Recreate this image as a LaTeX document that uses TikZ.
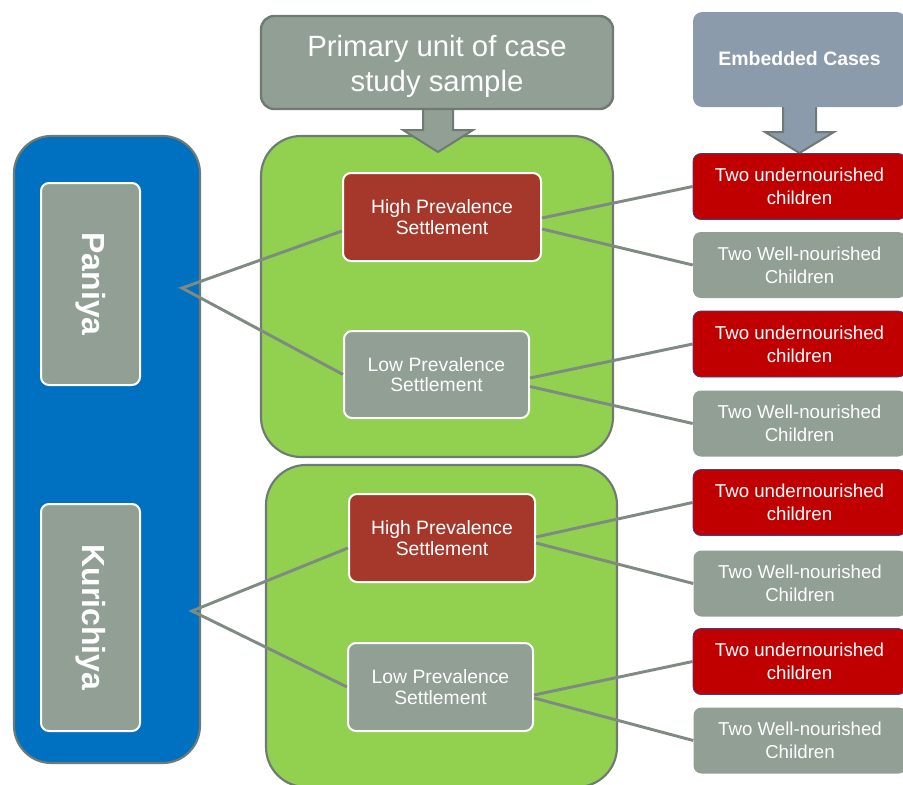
\documentclass[tikz,border=0pt]{standalone}
\usepackage{fontspec}
\setmainfont{Liberation Sans}
\usetikzlibrary{calc}

\definecolor{boxgray}{HTML}{919F94}
\definecolor{edgegray}{HTML}{6F7A72}
\definecolor{leafgreen}{HTML}{92D050}
\definecolor{paneblue}{HTML}{0070C0}
\definecolor{rust}{HTML}{A5382A}
\definecolor{deepred}{HTML}{C00000}
\definecolor{slate}{HTML}{8C9BAB}
\definecolor{linkgray}{HTML}{7E8A82}
\definecolor{rededge}{HTML}{3C3F8A}

\begin{document}
\begin{tikzpicture}[x=0.75pt,y=-0.75pt,
  sized/.style 2 args={minimum width=#1*0.75pt, minimum height=#2*0.75pt, inner sep=0pt},
  container/.style={draw=edgegray, line width=1.6pt, rounded corners=28pt},
  tribe/.style={fill=boxgray, draw=white, line width=1.5pt, rounded corners=6pt,
    text=white, font=\bfseries\fontsize{24}{28}\selectfont, rotate=-90},
  settle/.style={draw=white, line width=1.5pt, rounded corners=6pt, text=white,
    align=center, font=\fontsize{14.5}{15.5}\selectfont},
  child/.style={sized={213}{66}, rounded corners=6pt, text=white, align=center,
    font=\fontsize{14}{17}\selectfont},
  undernourished/.style={child, fill=deepred, draw=rededge, line width=0.6pt},
  wellnourished/.style={child, fill=boxgray},
  blockarrow/.style={draw=edgegray, line width=1.5pt, line join=miter},
  link/.style={draw=linkgray, line width=2.2pt}
]
\useasboundingbox (0,0) rectangle (903,785);

% ethnic groups panel
\node[container, fill=paneblue, sized={186}{627}] (groups) at (107,449.5) {};
\node[tribe, sized={202}{99}] (paniya) at (90.5,284) {Paniya};
\node[tribe, sized={227}{99}] (kurichiya) at (90.5,617.5) {Kurichiya};

% settlement panels
\node[container, fill=leafgreen, rounded corners=30pt, sized={352}{321}] (panelA) at (437,296.5) {};
\node[container, fill=leafgreen, rounded corners=30pt, sized={351}{322}] (panelB) at (441.5,626) {};

% block arrows
\draw[blockarrow, fill=boxgray] (423,100) -- (423,130) -- (403,130) -- (438,152)
  -- (473,130) -- (453,130) -- (453,100);
\draw[blockarrow, fill=slate] (783,100) -- (783,132) -- (765,132) -- (799.5,153)
  -- (834,132) -- (816,132) -- (816,100);

% headers
\node[sized={352}{93}, fill=boxgray, draw=edgegray, line width=1.8pt, rounded corners=10pt,
  text=white, font=\fontsize{22}{26}\selectfont] (primary) at (437,62.5)
  {\raisebox{-8.5pt}[0pt][0pt]{\begin{tabular}{@{}c@{}}Primary unit of case\\study sample\end{tabular}}};
\node[sized={213}{95}, fill=slate, rounded corners=7pt, text=white,
  font=\bfseries\fontsize{14.6}{17}\selectfont] (embedded) at (799.5,59.5)
  {\raisebox{1.5pt}{Embedded Cases}};

% settlements
\node[settle, fill=rust, sized={198}{88}] (h1) at (442,217) {High Prevalence\\Settlement};
\node[settle, fill=boxgray, sized={185}{87}] (l1) at (436.5,374.5) {Low Prevalence\\Settlement};
\node[settle, fill=rust, sized={186}{88}] (h2) at (442,538) {High Prevalence\\Settlement};
\node[settle, fill=boxgray, sized={185}{88}] (l2) at (440.5,687) {Low Prevalence\\Settlement};

% embedded cases
\node[undernourished] (u1) at (799.5,186.5) {Two undernourished\\children};
\node[wellnourished]  (w1) at (799.5,265)   {Two Well-nourished\\Children};
\node[undernourished] (u2) at (799.5,344)   {Two undernourished\\children};
\node[wellnourished]  (w2) at (799.5,423.5) {Two Well-nourished\\Children};
\node[undernourished] (u3) at (799.5,502.5) {Two undernourished\\children};
\node[wellnourished]  (w3) at (800,583.5)   {Two Well-nourished\\Children};
\node[undernourished] (u4) at (799.5,661.5) {Two undernourished\\children};
\node[wellnourished]  (w4) at (800,740.5)   {Two Well-nourished\\Children};

% connectors
\coordinate (pj) at (182,288);
\coordinate (kj) at (192,611);
\draw[link] ($(h1.west)+(0,14)$) -- (pj) -- (l1.west);
\draw[link] ($(h2.west)+(0,10)$) -- (kj) -- (l2.west);
\draw[link] ($(h1.east)+(0,1)$) -- (u1.west);
\draw[link] ($(h1.east)+(0,12)$) -- (w1.west);
\draw[link] ($(l1.east)+(0,3.5)$) -- (u2.west);
\draw[link] ($(l1.east)+(0,12)$) -- (w2.west);
\draw[link] ($(h2.east)+(0,-1)$) -- (u3.west);
\draw[link] ($(h2.east)+(0,5)$) -- (w3.west);
\draw[link] ($(l2.east)+(0,8)$) -- (u4.west);
\draw[link] ($(l2.east)+(0,11)$) -- (w4.west);
\end{tikzpicture}
\end{document}
